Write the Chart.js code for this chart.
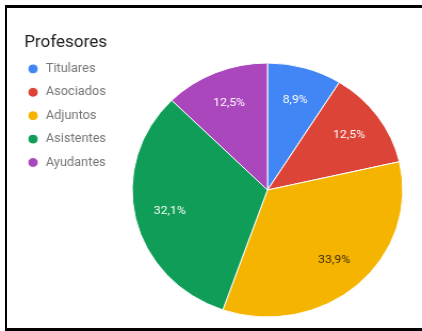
<!DOCTYPE html>
<html>
<head>
<meta charset="utf-8">
<script src="https://cdn.jsdelivr.net/npm/chart.js@4.4.0/dist/chart.umd.min.js"></script>
<style>
  html, body { margin: 0; padding: 0; width: 422px; height: 331px; overflow: hidden; background: #fff; }
  #wrap { position: absolute; left: 0; top: 0; transform: scaleX(1.0656); transform-origin: 0 0; }
  #frame { position: absolute; left: 5px; top: 5px; width: 500px; height: 320px;
           border-style: solid; border-color: #000; border-width: 3px 0 3px 2px; pointer-events: none; }
</style>
</head>
<body>
<div id="wrap"><canvas id="pie" width="490" height="331"></canvas></div>
<div id="frame"></div>
<script>
// Data
const labels = ['Titulares', 'Asociados', 'Adjuntos', 'Asistentes', 'Ayudantes'];
const percents = [8.9, 12.5, 33.9, 32.1, 12.5];
const colors = ['#4285F4', '#DB4437', '#F4B400', '#0F9D58', '#AB47BC'];
const labelColors = ['#ffffff', '#ffffff', '#3a2c00', '#ffffff', '#ffffff'];

// draws the percentage inside each slice
const sliceLabels = {
    id: 'sliceLabels',
    afterDatasetsDraw(chart) {
        const ctx = chart.ctx;
        const meta = chart.getDatasetMeta(0);
        ctx.save();
        ctx.font = '11.5px Roboto';
        ctx.textAlign = 'center';
        ctx.textBaseline = 'middle';
        meta.data.forEach((arc, i) => {
            const p = arc.getProps(['x', 'y', 'startAngle', 'endAngle', 'outerRadius'], true);
            const mid = (p.startAngle + p.endAngle) / 2;
            const r = p.outerRadius * 0.74;
            ctx.fillStyle = labelColors[i];
            ctx.fillText(percents[i].toFixed(1).replace('.', ',') + '%',
                p.x + Math.cos(mid) * r, p.y + Math.sin(mid) * r);
        });
        ctx.restore();
    }
};

const ctx = document.getElementById('pie').getContext('2d');
const pieChart = new Chart(ctx, {
    type: 'pie',
    data: {
        labels: labels,
        datasets: [{
            data: percents,
            backgroundColor: colors,
            borderColor: '#ffffff',
            borderWidth: 1
        }]
    },
    options: {
        responsive: false,
        animation: false,
        radius: 127,
        layout: { padding: { left: 13.6, top: 49, right: 1.6, bottom: 0 } },
        plugins: {
            tooltip: { enabled: false },
            legend: {
                position: 'chartArea',
                align: 'start',
                maxWidth: 99.4,
                title: {
                    display: true,
                    text: 'Profesores',
                    position: 'center',
                    color: '#212121',
                    font: { family: 'Roboto', size: 16 },
                    padding: { top: 35, bottom: -2.7 }
                },
                labels: {
                    usePointStyle: true,
                    pointStyle: 'circle',
                    boxWidth: 12,
                    boxHeight: 7,
                    padding: 11.4,
                    color: '#757575',
                    font: { family: 'Roboto', size: 12 }
                }
            }
        }
    },
    plugins: [sliceLabels]
});
</script>
</body>
</html>
